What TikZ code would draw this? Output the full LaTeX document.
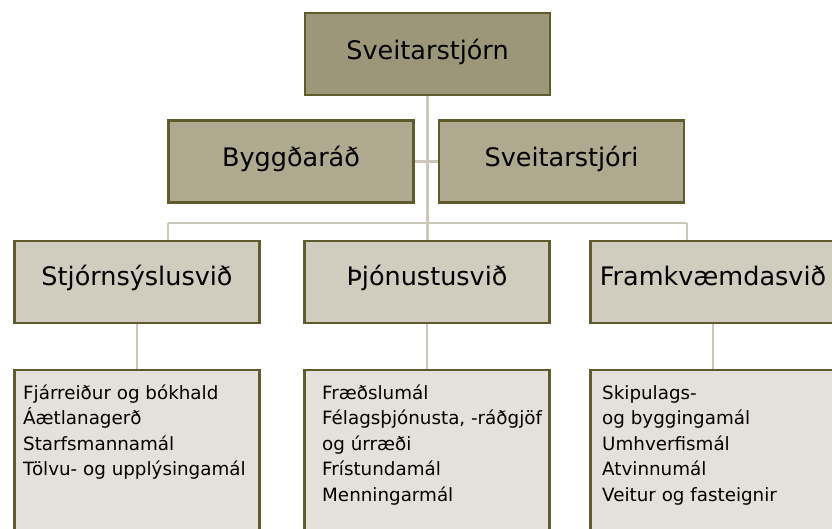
\documentclass[tikz,border=0pt]{standalone}
\usepackage{fontspec}
\setmainfont{DejaVu Sans}
\definecolor{bordercol}{HTML}{5F5B2C}
\definecolor{fillA}{HTML}{9D977A}
\definecolor{fillB}{HTML}{AEA98F}
\definecolor{fillC}{HTML}{D0CDBF}
\definecolor{fillD}{HTML}{E3E1DA}
\definecolor{linecol}{HTML}{CBC8BB}
\newcommand{\listlines}[1]{\vtop{\fontsize{18.3}{25.5}\selectfont #1}}
\begin{document}
\begin{tikzpicture}[x=1pt,y=-1pt,
  box/.style={draw=bordercol, line width=2.6pt, rectangle, inner sep=0pt,
    minimum width=245pt, minimum height=82pt},
  hdr/.style={font=\fontsize{25.5}{30}\selectfont},
  topbox/.style={box, fill=fillA, hdr},
  midbox/.style={box, fill=fillB, hdr},
  divbox/.style={box, fill=fillC, hdr},
  listbox/.style={box, fill=fillD, minimum height=190pt},
  listtxt/.style={anchor=base west, inner sep=0pt},
  conn/.style={draw=linecol, line width=2.6pt}]
\useasboundingbox (0,0) rectangle (832,528);
\clip (0,0) rectangle (832,528);
\fill[white] (0,0) rectangle (832,528);

\coordinate (hl) at (168,223);
\coordinate (hr) at (687,223);

\node[topbox] (top) at (427.5,54) {\raisebox{-5pt}[0pt][0pt]{Sveitarstjórn}};
\node[midbox] (bygg) at (291,161.5) {\raisebox{-5pt}[0pt][0pt]{Byggðaráð}};
\node[midbox] (stjori) at (561.5,161.5) {\raisebox{-5pt}[0pt][0pt]{Sveitarstjóri}};

\node[divbox] (d1) at (137,282) {\raisebox{-3pt}[0pt][0pt]{Stjórnsýslusvið}};
\node[divbox] (d2) at (427,282) {\raisebox{-3pt}[0pt][0pt]{Þjónustusvið}};
\node[divbox] (d3) at (713,282) {\raisebox{-3pt}[0pt][0pt]{Framkvæmdasvið}};

\node[listbox] (l1) at (137,465) {};
\node[listbox] (l2) at (427,465) {};
\node[listbox] (l3) at (713,465) {};

\draw[conn] (top.south) -- (top.south |- d2.north);
\draw[conn] (bygg.east) -- (stjori.west);
\draw[conn] (hl) -- (hr);
\draw[conn] (hl) -- (hl |- d1.north);
\draw[conn] (hr) -- (hr |- d3.north);
\draw[conn] (d1.south) -- (l1.north);
\draw[conn] (d2.south) -- (l2.north);
\draw[conn] (d3.south) -- (l3.north);

\node[listtxt] (t1) at (23,399) {\listlines{\hbox{Fjárreiður og bókhald}\hbox{Áætlanagerð}\hbox{Starfsmannamál}\hbox{Tölvu- og upplýsingamál}}};
\node[listtxt] (t2) at (322,399) {\listlines{\hbox{Fræðslumál}\hbox{Félagsþjónusta, -ráðgjöf}\hbox{og úrræði}\hbox{Frístundamál}\hbox{Menningarmál}}};
\node[listtxt] (t3) at (602,399) {\listlines{\hbox{Skipulags-}\hbox{og byggingamál}\hbox{Umhverfismál}\hbox{Atvinnumál}\hbox{Veitur og fasteignir}}};
\end{tikzpicture}
\end{document}
